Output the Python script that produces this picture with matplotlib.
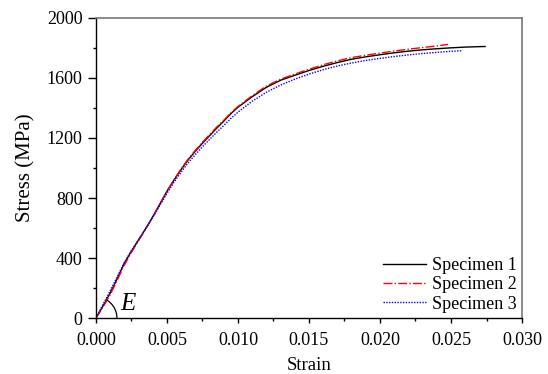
import matplotlib
matplotlib.use("Agg")
import matplotlib.pyplot as plt
from matplotlib.ticker import MultipleLocator, FormatStrFormatter
import numpy as np

plt.rcParams['font.family'] = ['Liberation Serif', 'DejaVu Serif']
plt.rcParams['mathtext.fontset'] = 'custom'
plt.rcParams['mathtext.it'] = 'Liberation Serif:italic'

# specimen 1 (black)
strain1 = [0, 0.0005, 0.001, 0.0015, 0.002, 0.0025, 0.003, 0.0035, 0.004, 0.0045,
           0.005, 0.0055, 0.006, 0.0065, 0.007, 0.0075, 0.008, 0.0085, 0.009, 0.0095,
           0.010, 0.011, 0.012, 0.013, 0.014, 0.015, 0.016, 0.017, 0.018, 0.019,
           0.020, 0.021, 0.022, 0.023, 0.024, 0.025, 0.026, 0.027, 0.0274]
stress1 = [0, 80, 165, 262, 365, 445, 520, 595, 675, 760,
           845, 920, 990, 1055, 1112, 1165, 1215, 1265, 1312, 1362,
           1405, 1475, 1538, 1585, 1618, 1650, 1678, 1703, 1725, 1741,
           1755, 1768, 1779, 1788, 1795, 1801, 1806, 1809, 1810]

# specimen 2 (red)
strain2 = [0, 0.0005, 0.001, 0.0015, 0.002, 0.0025, 0.003, 0.0035, 0.004, 0.0045,
           0.005, 0.0055, 0.006, 0.0065, 0.007, 0.0075, 0.008, 0.0085, 0.009, 0.0095,
           0.010, 0.011, 0.012, 0.013, 0.014, 0.015, 0.016, 0.017, 0.018, 0.019,
           0.020, 0.021, 0.022, 0.023, 0.024, 0.0248]
stress2 = [0, 72, 155, 252, 352, 438, 515, 592, 672, 758,
           845, 922, 995, 1060, 1118, 1172, 1222, 1272, 1318, 1368,
           1410, 1482, 1546, 1592, 1626, 1658, 1688, 1714, 1736, 1752,
           1766, 1780, 1792, 1803, 1814, 1824]

# specimen 3 (blue)
strain3 = [0, 0.0005, 0.001, 0.0015, 0.002, 0.0025, 0.003, 0.0035, 0.004, 0.0045,
           0.005, 0.0055, 0.006, 0.0065, 0.007, 0.0075, 0.008, 0.0085, 0.009, 0.0095,
           0.010, 0.011, 0.012, 0.013, 0.014, 0.015, 0.016, 0.017, 0.018, 0.019,
           0.020, 0.021, 0.022, 0.023, 0.024, 0.025, 0.0258]
stress3 = [0, 90, 180, 275, 370, 450, 522, 595, 670, 750,
           830, 905, 972, 1035, 1090, 1142, 1190, 1238, 1283, 1330,
           1372, 1445, 1505, 1553, 1592, 1626, 1655, 1680, 1700, 1717,
           1731, 1743, 1754, 1763, 1771, 1778, 1782]

fig = plt.figure(figsize=(5.48, 3.74), dpi=100)
ax = fig.add_axes([0.175, 0.1497, 0.7776, 0.8022])

ax.plot(strain1, stress1, color="black", lw=1.0, ls="-", label="Specimen 1")
ax.plot(strain2, stress2, color="red", lw=1.0, ls="-.", label="Specimen 2")
ax.plot(strain3, stress3, color="blue", lw=1.0, ls=(0, (1, 1)), label="Specimen 3")

ax.set_xlim(0, 0.030)
ax.set_ylim(0, 2000)
ax.xaxis.set_major_locator(MultipleLocator(0.005))
ax.xaxis.set_minor_locator(MultipleLocator(0.0025))
ax.xaxis.set_major_formatter(FormatStrFormatter("%.3f"))
ax.yaxis.set_major_locator(MultipleLocator(400))
ax.yaxis.set_minor_locator(MultipleLocator(200))

ax.tick_params(which="major", direction="out", width=1, labelsize=13)
ax.tick_params(axis="y", which="major", length=5.5, pad=4)
ax.tick_params(axis="x", which="major", length=3.8, pad=6)
ax.tick_params(which="minor", direction="out", length=2.5, width=1)
ax.tick_params(top=False, right=False, which="both")

for s in ["top", "right"]:
    ax.spines[s].set_color("#777777")
    ax.spines[s].set_linewidth(1.2)
for s in ["left", "bottom"]:
    ax.spines[s].set_linewidth(1.0)

ax.set_xlabel("Strain", fontsize=13.5, labelpad=6)
ax.set_ylabel("Stress (MPa)", fontsize=15, labelpad=8)

# modulus marker: small arc at the origin (radius ~21 px)
t = np.linspace(0, np.radians(57), 40)
ax.plot(21 / 14200 * np.cos(t), 21 / 0.15 * np.sin(t), color="black", lw=0.9, clip_on=False)
ax.text(0.00172, 95, "$E$", fontsize=18, ha="left", va="center")

leg = ax.legend(loc="lower right", frameon=False, fontsize=13, handlelength=2.4,
                handletextpad=0.3, labelspacing=0.12, borderaxespad=0.1, borderpad=0.2)

fig.savefig("out.png", dpi=100)
